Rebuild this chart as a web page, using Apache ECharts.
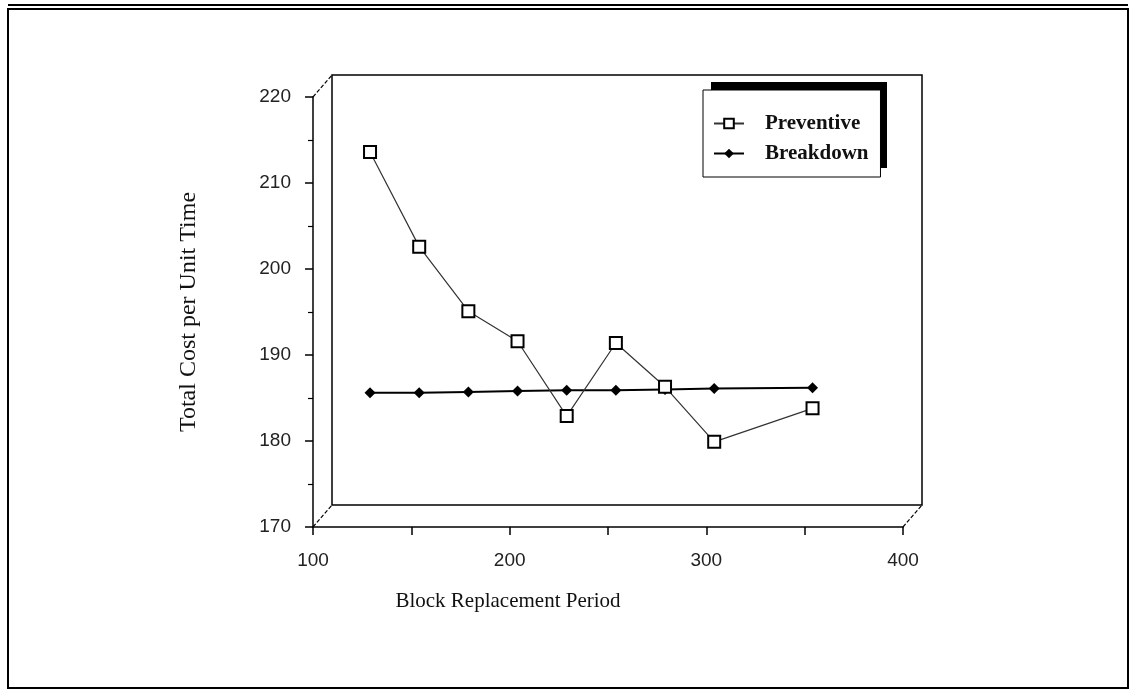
<!DOCTYPE html>
<html>
<head>
<meta charset="utf-8">
<script src="https://cdn.jsdelivr.net/npm/echarts@6/dist/echarts.min.js"></script>
<style>
  html, body { margin: 0; padding: 0; background: #fff; }
  #main { width: 1135px; height: 693px; }
</style>
</head>
<body>
<div id="main"></div>
<script>
// block replacement period (x) and costs
var periods = [129, 154, 179, 204, 229, 254, 279, 304, 354];
var preventive = [213.6, 202.6, 195.1, 191.6, 182.9, 191.4, 186.3, 179.9, 183.8];
var breakdown = [185.6, 185.6, 185.7, 185.8, 185.9, 185.9, 186.0, 186.1, 186.2];

var xMin = 100, xMax = 400, yMin = 170, yMax = 220;

function pairs(ys) {
  return periods.map(function (p, i) { return [p, ys[i]]; });
}

var chart = echarts.init(document.getElementById('main'), null, { renderer: 'canvas' });

var option = {
  backgroundColor: '#fff',
  animation: false,
  grid: [
    // front axes
    { left: 313, top: 97, width: 590, height: 430, show: false },
    // back wall of the pseudo-3d box
    { left: 332, top: 75, width: 590, height: 430, show: true, borderColor: '#000', borderWidth: 1.5, backgroundColor: 'transparent' }
  ],
  xAxis: [
    {
      gridIndex: 0, type: 'value', min: xMin, max: xMax, interval: 100,
      name: 'Block Replacement Period', nameLocation: 'middle', nameGap: 64,
      nameTextStyle: { fontFamily: 'Liberation Serif', fontSize: 21, color: '#111', padding: [0, 200, 0, 0] },
      axisLine: { show: true, onZero: false, lineStyle: { color: '#000', width: 1.5 } },
      axisTick: { show: true, length: 8, lineStyle: { color: '#000', width: 1.5 } },
      minorTick: { show: true, splitNumber: 2, length: 8, lineStyle: { color: '#000', width: 1.5 } },
      splitLine: { show: false },
      axisLabel: { fontFamily: 'Liberation Sans', fontSize: 19, color: '#222', margin: 24 }
    },
    { gridIndex: 1, type: 'value', min: xMin, max: xMax, show: false }
  ],
  yAxis: [
    {
      gridIndex: 0, type: 'value', min: yMin, max: yMax, interval: 10,
      name: 'Total Cost per Unit Time', nameLocation: 'middle', nameGap: 112, nameRotate: 90,
      nameTextStyle: { fontFamily: 'Liberation Serif', fontSize: 24, color: '#111' },
      axisLine: { show: true, onZero: false, lineStyle: { color: '#000', width: 1.5 } },
      axisTick: { show: true, length: 8, lineStyle: { color: '#000', width: 1.5 } },
      minorTick: { show: true, splitNumber: 2, length: 5, lineStyle: { color: '#000', width: 1.2 } },
      splitLine: { show: false },
      axisLabel: { fontFamily: 'Liberation Sans', fontSize: 19, color: '#222', margin: 22 }
    },
    { gridIndex: 1, type: 'value', min: yMin, max: yMax, show: false }
  ],
  legend: {
    orient: 'vertical',
    left: 703, top: 90,
    padding: [23, 12, 13, 10],
    itemGap: 9,
    itemWidth: 30, itemHeight: 12,
    backgroundColor: '#fff',
    borderColor: '#000', borderWidth: 1,
    textStyle: { fontFamily: 'Liberation Serif', fontWeight: 'bold', fontSize: 21, color: '#111', padding: [0, 4, 0, 16] },
    data: ['Preventive', 'Breakdown']
  },
  series: [
    {
      name: 'Preventive', type: 'line', xAxisIndex: 0, yAxisIndex: 0,
      data: pairs(preventive),
      symbol: 'emptyRect', symbolSize: 12,
      lineStyle: { color: '#333', width: 1.2 },
      itemStyle: { color: '#000', borderColor: '#000', borderWidth: 1.6 },
      z: 3
    },
    {
      name: 'Breakdown', type: 'line', xAxisIndex: 0, yAxisIndex: 0,
      data: pairs(breakdown),
      symbol: 'diamond', symbolSize: 11,
      lineStyle: { color: '#000', width: 2 },
      itemStyle: { color: '#000' },
      z: 2
    }
  ]
};

chart.setOption(option);

// diagonals joining the front axes to the back wall, plus the page frame
function px(g, v) { return chart.convertToPixel({ gridIndex: g }, v); }
var corners = [[xMin, yMax], [xMin, yMin], [xMax, yMin]];
var graphics = corners.map(function (c) {
  var a = px(0, c), b = px(1, c);
  return {
    type: 'line', silent: true,
    shape: { x1: a[0], y1: a[1], x2: b[0], y2: b[1] },
    style: { stroke: '#000', lineWidth: 1.2, lineDash: [4, 2] }
  };
});
// solid drop shadow behind the legend box (top and right edges)
graphics.push({
  type: 'rect', silent: true, z: 0,
  shape: { x: 711, y: 82, width: 176, height: 86 },
  style: { fill: '#000' }
});
graphics.push({
  type: 'rect', silent: true,
  shape: { x: 8, y: 9, width: 1120, height: 679 },
  style: { fill: 'none', stroke: '#000', lineWidth: 2 }
});
graphics.push({
  type: 'line', silent: true,
  shape: { x1: 8, y1: 5, x2: 1128, y2: 5 },
  style: { stroke: '#000', lineWidth: 2 }
});
chart.setOption({ graphic: graphics });
</script>
</body>
</html>
